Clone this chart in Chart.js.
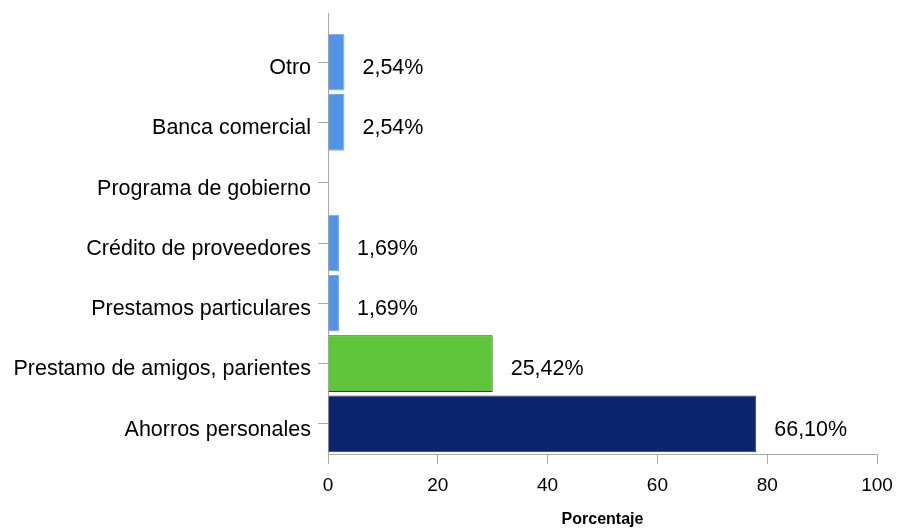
<!DOCTYPE html>
<html>
<head>
<meta charset="utf-8">
<script src="https://cdn.jsdelivr.net/npm/chart.js@4"></script>
<style>
  html, body { margin: 0; padding: 0; background: #fff; }
  #wrap { width: 897px; height: 529px; }
</style>
</head>
<body>
<div id="wrap"><canvas id="myChart" width="897" height="529"></canvas></div>
<script>
'use strict';

// data (bars are counts, labels are percentages)
let categorias = ['Otro', 'Banca comercial', 'Programa de gobierno', 'Crédito de proveedores',
  'Prestamos particulares', 'Prestamo de amigos, parientes', 'Ahorros personales'];
let frecuencias = [3, 3, 0, 2, 2, 30, 78];
let porcentajes = [2.54, 2.54, 0, 1.69, 1.69, 25.42, 66.10];
let ticksX = [0, 20, 40, 60, 80, 100];

let fuente = '"Liberation Sans", Arial, sans-serif';
let gris = '#a9a9a9';
let colores = ['#5593e4', '#5593e4', '#5593e4', '#5593e4', '#5593e4', '#5ec43a', '#0b246d'];
let bordes = ['#7aa9ea', '#7aa9ea', '#7aa9ea', '#7aa9ea', '#7aa9ea', '#3a3a3a', '#3a3a3a'];

// value labels next to each bar
let etiquetas = {
  id: 'etiquetas',
  afterDatasetsDraw(chart) {
    let ctx = chart.ctx;
    let meta = chart.getDatasetMeta(0);
    ctx.save();
    ctx.font = '21.5px ' + fuente;
    ctx.fillStyle = '#000';
    ctx.textAlign = 'left';
    ctx.textBaseline = 'middle';
    meta.data.forEach(function (bar, i) {
      if (!porcentajes[i]) return;
      let txt = porcentajes[i].toFixed(2).replace('.', ',') + '%';
      ctx.fillText(txt, bar.x + 18, bar.y + 6);
    });
    ctx.restore();
  },
  afterDraw(chart) {
    // y axis line runs a bit above the plot
    let ctx = chart.ctx;
    let area = chart.chartArea;
    ctx.save();
    ctx.strokeStyle = gris;
    ctx.lineWidth = 1;
    ctx.beginPath();
    ctx.moveTo(area.left + 0.5, area.top - 19);
    ctx.lineTo(area.left + 0.5, area.top);
    ctx.stroke();
    ctx.restore();
  }
};

let ctx = document.getElementById('myChart').getContext('2d');
let myChart = new Chart(ctx, {
  type: 'bar',
  data: {
    labels: categorias,
    datasets: [{
      data: frecuencias,
      backgroundColor: colores,
      borderColor: bordes,
      borderWidth: 1,
      barPercentage: 0.94,
      categoryPercentage: 1
    }]
  },
  options: {
    indexAxis: 'y',
    responsive: false,
    animation: false,
    layout: { padding: { top: 32, right: 20, bottom: 0, left: 0 } },
    plugins: {
      legend: { display: false },
      tooltip: { enabled: false }
    },
    scales: {
      x: {
        min: ticksX[0],
        max: ticksX[ticksX.length - 1],
        afterBuildTicks(scale) {
          scale.ticks = ticksX.map(function (v) { return { value: v }; });
        },
        afterFit(scale) {
          scale.height = 75;
          scale.paddingRight = 0;
          scale.paddingLeft = 0;
        },
        grid: { drawOnChartArea: false, tickLength: 10, color: gris },
        border: { color: gris },
        ticks: { color: '#000', padding: 10, font: { family: fuente, size: 19 } },
        title: {
          display: true,
          text: 'Porcentaje',
          color: '#000',
          padding: 0,
          font: { family: fuente, size: 16, weight: 'bold' }
        }
      },
      y: {
        afterFit(scale) { scale.width = 328; },
        grid: { offset: false, drawOnChartArea: false, tickLength: 10, color: gris },
        border: { color: gris },
        ticks: { color: '#000', padding: 7, labelOffset: 6, font: { family: fuente, size: 21.5 } }
      }
    }
  },
  plugins: [etiquetas]
});
</script>
</body>
</html>
